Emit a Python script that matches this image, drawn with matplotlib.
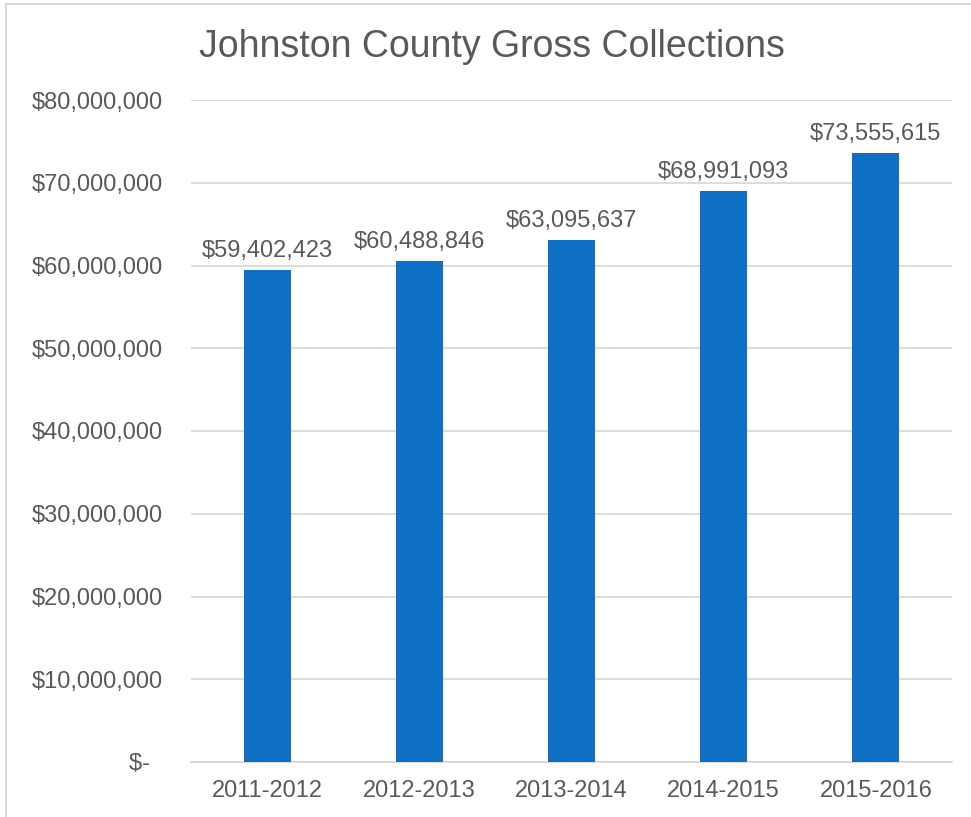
import matplotlib.pyplot as plt
from matplotlib.patches import Rectangle
from matplotlib.ticker import FuncFormatter

years = ["2011-2012", "2012-2013", "2013-2014", "2014-2015", "2015-2016"]
collections = [59402423, 60488846, 63095637, 68991093, 73555615]
y_ticks = [0, 10e6, 20e6, 30e6, 40e6, 50e6, 60e6, 70e6, 80e6]

text_col = "#595959"
bar_col = "#0F6FC6"
grid_col = "#D9D9D9"

plt.rcParams['font.family'] = ['Liberation Sans', 'DejaVu Sans']

W, H = 971, 817
fig = plt.figure(figsize=(W / 100, H / 100), dpi=100)
ax = fig.add_axes([191 / W, 1 - 762 / H, (952 - 191) / W, (762 - 100) / H])

x = range(len(years))
ax.bar(x, collections, width=0.31, color=bar_col, zorder=3)
ax.set_xlim(-0.5, len(years) - 0.5)
ax.set_ylim(0, 80e6)
ax.set_yticks(y_ticks)


def money(v, pos):
    if v == 0:
        return "$-  "
    return f"${v:,.0f}"


ax.yaxis.set_major_formatter(FuncFormatter(money))
ax.set_xticks(list(x))
ax.set_xticklabels(years)
ax.tick_params(axis='y', length=0, pad=20, labelsize=17, labelcolor=text_col)
ax.tick_params(axis='x', length=0, pad=13, labelsize=17, labelcolor=text_col)

ax.grid(axis='y', color=grid_col, linewidth=1.3, zorder=0)
for s in ["top", "right", "left"]:
    ax.spines[s].set_visible(False)
ax.spines["bottom"].set_color(grid_col)
ax.spines["bottom"].set_linewidth(1.3)

for xi, v in zip(x, collections):
    ax.annotate(f"${v:,.0f}", (xi, v), xytext=(0, 6), textcoords="offset points",
                ha="center", va="bottom", fontsize=17, color=text_col)

fig.text(492 / W, 1 - 47 / H, "Johnston County Gross Collections",
         ha="center", va="center", fontsize=27, color=text_col)

# chart border (only top and left visible in the crop)
fig.patches.append(Rectangle((6 / W, -0.05), 1.1, 1 - 4 / H + 0.05,
                             transform=fig.transFigure, fill=False,
                             edgecolor=grid_col, linewidth=1.5))

fig.savefig("out.png", dpi=100)
